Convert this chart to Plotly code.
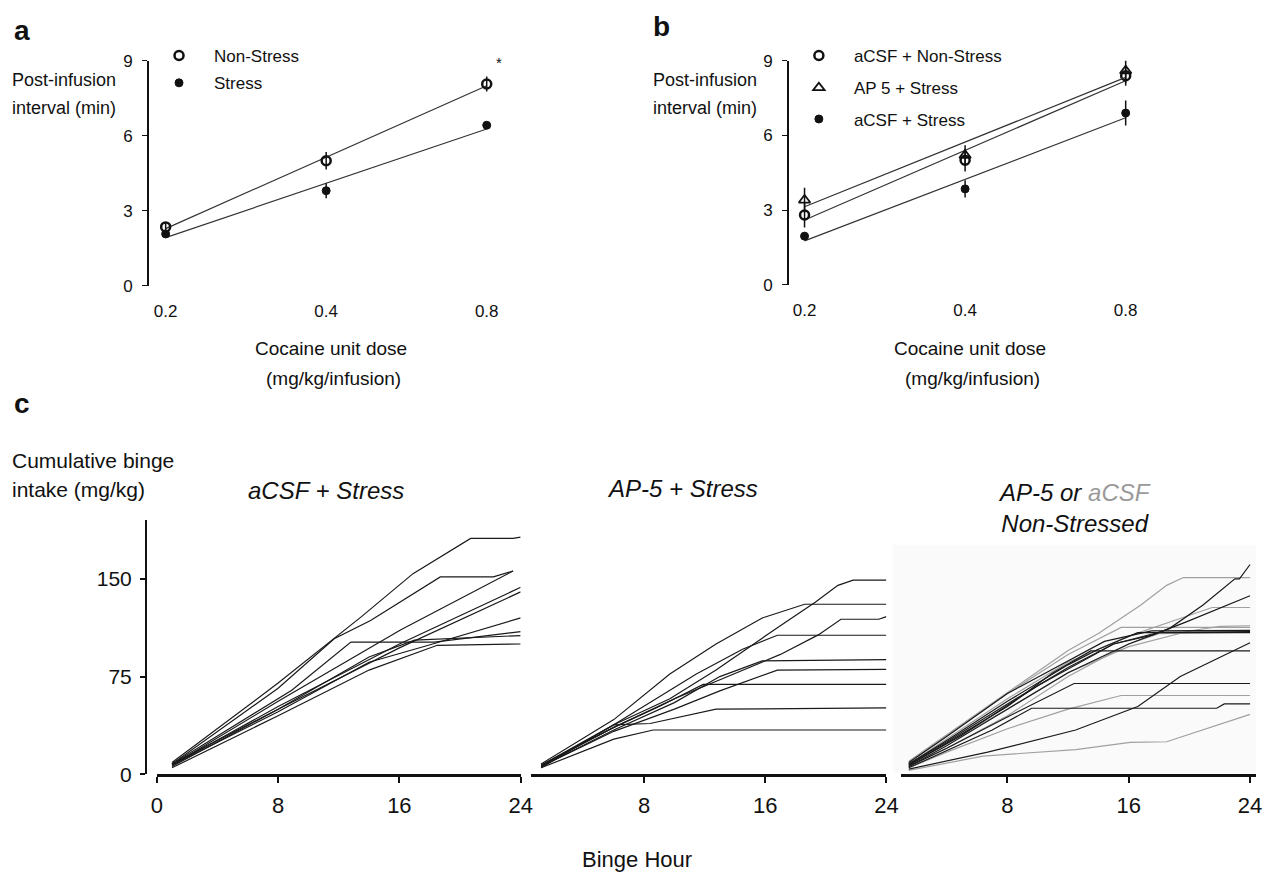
import numpy as np
import plotly.graph_objects as go

W, H = 1277, 886

# ---------------- DATA ----------------
dose_labels = ["0.2", "0.4", "0.8"]
dose_pos = [0, 1, 2]

# panel a
a_nonstress = [2.35, 5.0, 8.07]
a_nonstress_err = [0.15, 0.35, 0.3]
a_stress = [2.07, 3.8, 6.42]
a_stress_err = [0.1, 0.3, 0.1]

# panel b
b_acsf_nonstress = [2.8, 5.0, 8.4]
b_acsf_nonstress_err = [0.5, 0.45, 0.4]
b_ap5_stress = [3.4, 5.2, 8.6]
b_ap5_stress_err = [0.5, 0.4, 0.5]
b_acsf_stress = [1.95, 3.85, 6.9]
b_acsf_stress_err = [0.15, 0.35, 0.5]

# panel c: cumulative intake curves (binge hour, mg/kg)
c1_hours = [
    [1, 8, 13.5, 16.9, 20.7, 23.5, 24],
    [1, 8, 11.7, 14.1, 18.7, 22.2, 23.5],
    [1, 8.9, 12.8, 18.3, 24],
    [1, 8, 16.1, 23.5],
    [1, 8, 16, 24],
    [1, 8, 16, 24],
    [1, 8, 14, 18.2, 24],
    [1, 8, 14, 17, 24],
    [1, 8, 14, 18.5, 24],
]
c1_values = [
    [9, 70, 121, 154, 181, 181, 182],
    [8, 66, 104, 118, 151.5, 151.5, 156],
    [8, 64.5, 101.5, 101.5, 109.5],
    [7, 56, 111, 156],
    [7, 52, 100, 143.5],
    [6, 50, 97, 140],
    [7, 48, 86, 100, 120],
    [8, 50, 90, 103, 106.5],
    [5, 45, 80, 99, 100],
]

c2_hours = [
    [1.2, 6, 9.7, 12.75, 16.8, 19.3, 20.8, 21.8, 24],
    [1.2, 6, 9.7, 12.75, 15.8, 18, 18.6, 24],
    [1.2, 6, 10, 13.5, 17, 19.5, 21, 23.5, 24],
    [1.2, 6, 11.45, 14.5, 16.8, 24],
    [1.2, 6, 10, 13, 15.8, 24],
    [1.2, 6, 10, 13, 16.8, 24],
    [1.2, 6, 9, 11.9, 24],
    [1.2, 6, 8.4, 12.75, 24],
    [1.2, 6, 8.6, 24],
]
c2_values = [
    [6, 38, 58, 80, 112.5, 132, 145, 149, 149],
    [8, 42, 77, 100, 120, 128, 130.5, 130.5],
    [7, 36, 58, 75, 92, 107, 119, 119, 121],
    [7, 38, 77, 96, 106.7, 106.7],
    [6, 34, 55, 75, 87, 88],
    [6, 33, 50, 64, 80, 80.5],
    [7, 36, 52, 69, 69],
    [5, 38, 39, 50, 51],
    [5, 27, 34, 34],
]

# third panel: AP-5 (black) and aCSF (grey), non-stressed
c3_ap5_hours = [
    [1.5, 4, 8, 12, 16, 18.7, 20.9, 23, 23.3, 24],
    [1.5, 4, 8, 12, 15, 17.6, 19.8, 24],
    [1.5, 4, 8, 12, 14, 16.6, 24],
    [1.5, 4, 8, 12.2, 14.4, 17.5, 24],
    [1.5, 4, 8, 11, 13.5, 24],
    [1.5, 4, 8, 12.4, 24],
    [1.5, 4, 7, 9.6, 21.8, 22.3, 24],
    [1.5, 6.7, 12.5, 16.6, 19.4, 24],
    [1.5, 5, 10, 15, 18, 24],
]
c3_ap5_values = [
    [6, 22, 50, 78, 100, 112, 130, 150, 150, 161],
    [8, 25, 54, 82, 100, 107, 117, 137],
    [8, 26, 56, 84, 96, 108.7, 108.7],
    [9, 29, 62, 88, 102, 110, 110.5],
    [7, 24, 52, 78, 94.7, 94.7],
    [6, 20, 44, 69.7, 69.7],
    [5, 18, 34, 50.7, 50.7, 54, 54],
    [4, 17, 34, 52, 75, 101],
    [7, 30, 68, 100, 109, 109.5],
]
c3_acsf_hours = [
    [1.5, 4.2, 8.5, 12, 14, 16.8, 18.5, 19.6, 24],
    [1.5, 4, 8, 12, 16, 19, 21.5, 24],
    [1.5, 4, 8, 12, 15.5, 24],
    [1.5, 4, 8, 12, 16, 20, 22, 24],
    [1.5, 4, 8, 12, 15.5, 24],
    [1.5, 6.4, 12.5, 16.1, 18.5, 24],
    [1.5, 4, 8, 12, 16, 18, 24],
]
c3_acsf_values = [
    [10, 32, 67, 95, 108, 130, 145, 151, 151],
    [8, 27, 58, 86, 106, 118, 128, 128],
    [9, 30, 62, 92, 112.7, 112.7],
    [7, 24, 50, 78, 98, 110, 113.5, 114],
    [5, 17, 35, 50, 60.5, 60.5],
    [3, 14, 19, 24.5, 25, 46],
    [6, 20, 45, 75, 100, 108, 109],
]

c_titles = ["<i>aCSF + Stress</i>", "<i>AP-5 + Stress</i>",
            "<i>AP-5 or <span style='color:#9a9a9a'>aCSF</span></i><br><i>Non-Stressed</i>"]

# ---------------- helpers ----------------
def px(x):
    return x / W


def py(y):
    return 1 - y / H


FONT = "Liberation Sans Narrow, Arial Narrow, Liberation Sans, Arial, sans-serif"
BLACK = "#111111"

fig = go.Figure()


def add_dose_group(xa, ya, vals, errs, symbol, size, lw, name, legend):
    slope, icpt = np.polyfit(dose_pos, vals, 1)
    fit = [icpt + slope * p for p in (dose_pos[0], dose_pos[-1])]
    fig.add_trace(go.Scatter(x=[dose_pos[0], dose_pos[-1]], y=fit, mode="lines",
                             line=dict(color="#333333", width=1.2),
                             xaxis=xa, yaxis=ya, showlegend=False, hoverinfo="skip"))
    fig.add_trace(go.Scatter(x=dose_pos, y=vals, mode="markers", name=name,
                             marker=dict(symbol=symbol, size=size, color=BLACK,
                                         line=dict(color=BLACK, width=lw)),
                             error_y=dict(type="data", array=errs, color=BLACK,
                                          thickness=1.5, width=0),
                             xaxis=xa, yaxis=ya, legend=legend, cliponaxis=False))


# panel a
add_dose_group("x", "y", a_nonstress, a_nonstress_err, "circle-open", 9, 2.5, "Non-Stress", "legend")
add_dose_group("x", "y", a_stress, a_stress_err, "circle", 8, 1, "Stress", "legend2")
# panel b
add_dose_group("x2", "y2", b_acsf_nonstress, b_acsf_nonstress_err, "circle-open", 9, 2.5,
               "aCSF + Non-Stress", "legend3")
add_dose_group("x2", "y2", b_ap5_stress, b_ap5_stress_err, "triangle-up-open", 10, 1.8,
               "AP 5 + Stress", "legend4")
add_dose_group("x2", "y2", b_acsf_stress, b_acsf_stress_err, "circle", 8, 1,
               "aCSF + Stress", "legend5")

# panel c curves
for hs, vs in zip(c1_hours, c1_values):
    fig.add_trace(go.Scatter(x=hs, y=vs, mode="lines", line=dict(color="#1a1a1a", width=1.2),
                             xaxis="x3", yaxis="y3", showlegend=False, hoverinfo="skip"))
for hs, vs in zip(c2_hours, c2_values):
    fig.add_trace(go.Scatter(x=hs, y=vs, mode="lines", line=dict(color="#1a1a1a", width=1.2),
                             xaxis="x4", yaxis="y4", showlegend=False, hoverinfo="skip"))
for hs, vs in zip(c3_acsf_hours, c3_acsf_values):
    fig.add_trace(go.Scatter(x=hs, y=vs, mode="lines", line=dict(color="#a0a0a0", width=1.2),
                             xaxis="x5", yaxis="y5", showlegend=False, hoverinfo="skip"))
for hs, vs in zip(c3_ap5_hours, c3_ap5_values):
    fig.add_trace(go.Scatter(x=hs, y=vs, mode="lines", line=dict(color="#1a1a1a", width=1.2),
                             xaxis="x5", yaxis="y5", showlegend=False, hoverinfo="skip"))

# ---------------- axes ----------------
tickfont_ab = dict(family=FONT, size=17, color=BLACK)
dose_x = dict(tickvals=dose_pos, ticktext=dose_labels, showline=False, ticks="",
              showgrid=False, zeroline=False, tickfont=tickfont_ab, ticklabelstandoff=13,
              fixedrange=True)
dose_y = dict(range=[0, 9], tickvals=[0, 3, 6, 9], showline=True, linecolor=BLACK,
              linewidth=1.5, ticks="outside", ticklen=5, tickcolor=BLACK, tickwidth=1.2,
              showgrid=False, zeroline=False, tickfont=tickfont_ab, ticklabelstandoff=6)

fig.update_layout(
    xaxis=dict(domain=[px(145), px(512)], range=[-0.104, 2.15], anchor="y", **dose_x),
    yaxis=dict(domain=[py(283), py(53)], anchor="x", **dose_y),
    xaxis2=dict(domain=[px(794), px(1165)], range=[-0.098, 2.18], anchor="y2", **dose_x),
    yaxis2=dict(domain=[py(282), py(53)], anchor="x2", **dose_y),
)

tickfont_c = dict(family=FONT, size=22, color=BLACK)
hour_x = dict(showline=True, linecolor=BLACK, linewidth=2.5, ticks="outside", ticklen=6,
              tickwidth=1.5, tickcolor=BLACK, showgrid=False, zeroline=False,
              tickfont=tickfont_c, ticklabelstandoff=4)
c_ydom = [py(783), py(523)]
c_yrange = [0, 195]
fig.update_layout(
    xaxis3=dict(domain=[px(153), px(522)], range=[0, 24], anchor="y3",
                tickvals=[0, 8, 16, 24], **hour_x),
    yaxis3=dict(domain=c_ydom, range=c_yrange, anchor="free", position=px(142),
                tickvals=[0, 75, 150], showline=True, linecolor=BLACK, linewidth=2,
                ticks="outside", ticklen=5, tickcolor=BLACK, tickwidth=1.5,
                showgrid=False, zeroline=False, tickfont=dict(family=FONT, size=21, color=BLACK),
                ticklabelstandoff=4),
    xaxis4=dict(domain=[px(532), px(893)], range=[0.5, 24], anchor="y4",
                tickvals=[8, 16, 24], **hour_x),
    yaxis4=dict(domain=c_ydom, range=c_yrange, anchor="x4", visible=False),
    xaxis5=dict(domain=[px(908), px(1268)], range=[1, 24.4], anchor="y5",
                tickvals=[8, 16, 24], **hour_x),
    yaxis5=dict(domain=c_ydom, range=c_yrange, anchor="x5", visible=False),
)

# faint background of third panel
fig.add_shape(type="rect", xref="paper", yref="paper", x0=px(900), x1=px(1268),
              y0=py(782), y1=py(548), fillcolor="#fafafa", line=dict(width=0), layer="below")

# ---------------- legends ----------------
leg_common = dict(bgcolor="rgba(0,0,0,0)", font=dict(family=FONT, size=17, color=BLACK),
                  xanchor="left", yanchor="middle", itemwidth=60, borderwidth=0)
legend_pos = {
    "legend": (178, 48), "legend2": (178, 76),
    "legend3": (827, 48), "legend4": (827, 81), "legend5": (827, 113),
}
for key, (mx, my) in legend_pos.items():
    fig.update_layout(**{key: dict(x=px(mx - 38), y=py(my), **leg_common)})

# ---------------- annotations ----------------
ann = []


def text(x, y, t, size=16, xanchor="left", yanchor="middle", bold=False, align="left", color=BLACK):
    ann.append(dict(x=px(x), y=py(y), xref="paper", yref="paper", text=("<b>%s</b>" % t) if bold else t,
                    showarrow=False, xanchor=xanchor, yanchor=yanchor, align=align,
                    font=dict(family=FONT if not bold else "Liberation Sans, Arial, sans-serif",
                              size=size, color=color)))


text(6, 22, "a", size=28, bold=True)
text(654, 18, "b", size=28, bold=True)
text(6, 404, "c", size=28, bold=True)

for x0 in (4, 654):
    text(x0, 73, "Post-infusion", size=18)
    text(x0, 101, "interval (min)", size=18)

text(330, 347, "Cocaine unit dose", size=19, xanchor="center")
text(332, 378, "(mg/kg/infusion)", size=19, xanchor="center")
text(978, 347, "Cocaine unit dose", size=19, xanchor="center")
text(980, 378, "(mg/kg/infusion)", size=19, xanchor="center")

text(500, 55, "*", size=15, xanchor="center")

text(4, 462, "Cumulative binge", size=21)
text(4, 492, "intake (mg/kg)", size=21)

text(325, 493, c_titles[0], size=24, xanchor="center")
text(686, 491, c_titles[1], size=24, xanchor="center")
text(1084, 511, c_titles[2], size=24, xanchor="center", align="center")

text(640, 870, "Binge Hour", size=22, xanchor="center")

fig.update_layout(
    annotations=ann,
    width=W, height=H,
    margin=dict(l=0, r=0, t=0, b=0),
    paper_bgcolor="white", plot_bgcolor="rgba(0,0,0,0)",
    font=dict(family=FONT, color=BLACK),
    showlegend=True,
)

fig.write_html("out.html", config={"displayModeBar": False})
